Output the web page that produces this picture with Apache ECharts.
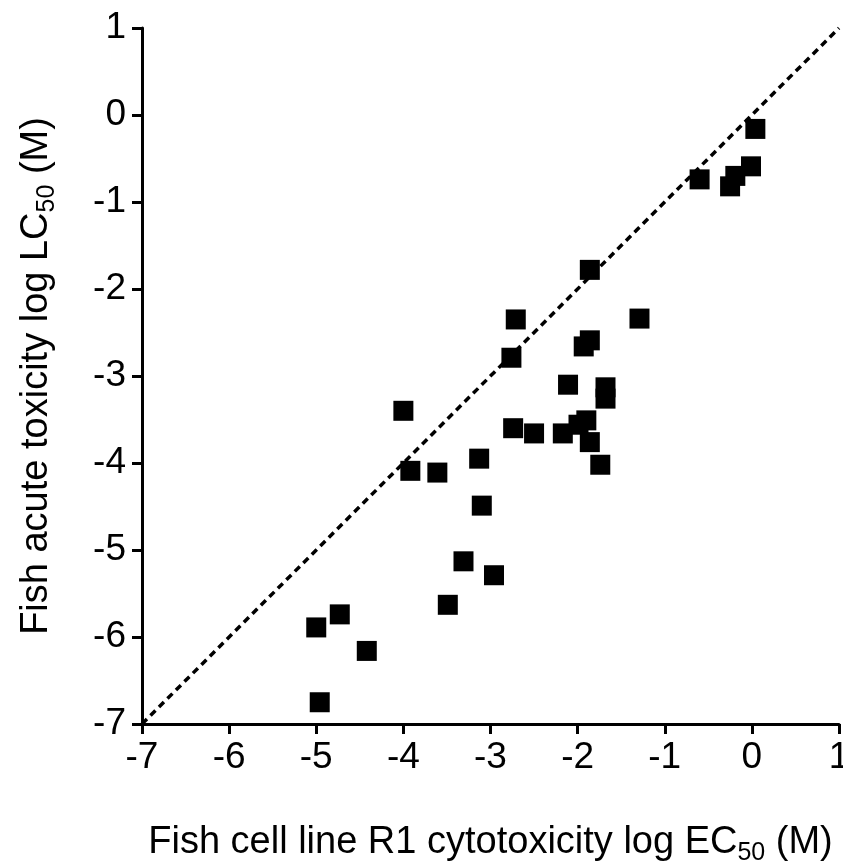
<!DOCTYPE html>
<html>
<head>
<meta charset="utf-8">
<script src="https://cdn.jsdelivr.net/npm/echarts@6/dist/echarts.min.js"></script>
<style>html,body{margin:0;padding:0;background:#fff}#c{width:843px;height:864px}</style>
</head>
<body>
<div id="c"></div>
<script>
// Fish cell line R1 cytotoxicity log EC50 (x) vs fish acute toxicity log LC50 (y)
const xValues = [0.04, -0.01, -0.19, -0.25, -0.60, -1.86, -2.71, -1.29, -1.86, -1.93, -2.76, -2.11, -1.68, -1.68, -4.00, -2.74, -2.50, -2.17, -1.90, -1.99, -1.86, -1.74, -3.92, -3.61, -3.13, -3.10, -3.31, -2.96, -3.49, -4.73, -5.00, -4.42, -4.96];
const yValues = [-0.16, -0.59, -0.70, -0.82, -0.74, -1.78, -2.35, -2.34, -2.59, -2.66, -2.79, -3.10, -3.13, -3.26, -3.40, -3.60, -3.66, -3.66, -3.51, -3.56, -3.76, -4.02, -4.09, -4.11, -3.95, -4.49, -5.13, -5.29, -5.63, -5.74, -5.89, -6.16, -6.75];
const identityLine = [[-7, -7], [1, 1]];
const axisMin = -7, axisMax = 1, axisStep = 1;

const points = xValues.map((x, i) => [x, yValues[i]]);
const font = 'Liberation Sans, Arial, sans-serif';

const rich = {
  a: {fontSize: 38, fontFamily: font, color: '#000', lineHeight: 46},
  s: {fontSize: 25, fontFamily: font, color: '#000', lineHeight: 25, verticalAlign: 'bottom'}
};

const chart = echarts.init(document.getElementById('c'), null, {renderer: 'canvas'});
chart.setOption({
  animation: false,
  backgroundColor: '#fff',
  grid: {left: 142, top: 28, right: 4, bottom: 140, containLabel: false, outerBoundsMode: 'none'},
  xAxis: {
    type: 'value', min: axisMin, max: axisMax, interval: axisStep,
    splitLine: {show: false},
    axisLine: {show: true, onZero: false, lineStyle: {color: '#000', width: 3}},
    axisTick: {show: true, length: 10, lineStyle: {color: '#000', width: 3}},
    axisLabel: {color: '#000', fontSize: 37, fontFamily: font, margin: 15},
    name: '{a|Fish cell line R1 cytotoxicity log EC}{s|50}{a| (M)}',
    nameLocation: 'middle', nameGap: 96,
    nameTextStyle: {rich: rich}
  },
  yAxis: {
    type: 'value', min: axisMin, max: axisMax, interval: axisStep,
    splitLine: {show: false},
    axisLine: {show: true, onZero: false, lineStyle: {color: '#000', width: 3}},
    axisTick: {show: true, length: 10, lineStyle: {color: '#000', width: 3}},
    axisLabel: {color: '#000', fontSize: 37, fontFamily: font, margin: 16},
    name: '{a|Fish acute toxicity log LC}{s|50}{a| (M)}',
    nameLocation: 'middle', nameGap: 82, nameRotate: 90,
    nameTextStyle: {rich: rich}
  },
  series: [
    {
      type: 'line', data: identityLine, symbol: 'none', z: 1,
      lineStyle: {color: '#000', width: 3.5, type: [7, 5]},
      silent: true
    },
    {
      type: 'scatter', data: points, symbol: 'rect', symbolSize: 20, z: 3,
      itemStyle: {color: '#000', opacity: 1}
    }
  ]
});
</script>
</body>
</html>
